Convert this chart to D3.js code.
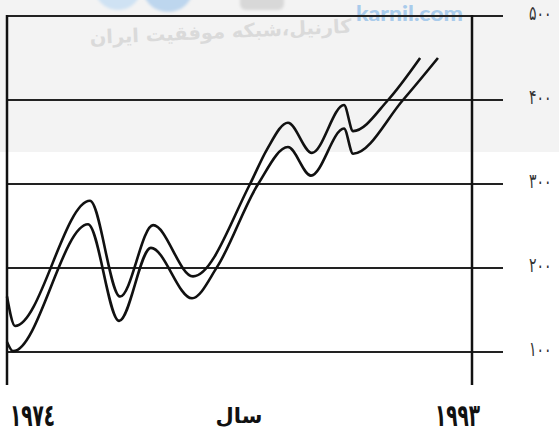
<!DOCTYPE html>
<html>
<head>
<meta charset="utf-8">
<script src="https://cdn.jsdelivr.net/npm/d3@7"></script>
<style>
  html, body { margin: 0; padding: 0; background: #fff; }
  svg { display: block; }
</style>
</head>
<body>
<svg id="chart" width="559" height="434"></svg>
<script>
// ---- data ----
const yearTicks = [1974, 1993];
const yearLabels = ["۱۹۷٤", "۱۹۹۳"];
const axisTitle = "سال";
const valueTicks = [100, 200, 300, 400, 500];
const valueLabels = ["۱۰۰", "۲۰۰", "۳۰۰", "۴۰۰", "۵۰۰"];

// upper curve
const yearsA = [1974.0, 1974.33, 1977.39, 1978.62, 1979.97, 1981.6, 1983.93, 1984.62, 1985.48, 1986.46, 1987.77, 1988.14, 1989.57, 1990.88];
const valuesA = [166, 131, 280, 166, 251, 190, 300, 341, 373, 337, 394, 363, 400, 450];
// lower curve
const yearsB = [1974.0, 1974.25, 1977.31, 1978.58, 1979.88, 1981.56, 1982.58, 1984.26, 1985.48, 1986.42, 1987.77, 1988.14, 1990.18, 1991.61];
const valuesB = [112, 101, 252, 137, 224, 164, 201, 300, 344, 310, 366, 336, 400, 450];

// ---- drawing ----
const svg = d3.select("#chart");
const x = d3.scaleLinear().domain([1974, 1993]).range([7, 472]);
const y = d3.scaleLinear().domain([100, 500]).range([352, 16]);

// background (textured top band with watermark)
svg.append("rect").attr("x", 0).attr("y", 0).attr("width", 559).attr("height", 434).attr("fill", "#ffffff");
svg.append("rect").attr("x", 0).attr("y", 0).attr("width", 559).attr("height", 152).attr("fill", "#f3f3f3");

const defs = svg.append("defs");
defs.append("filter").attr("id", "blur").append("feGaussianBlur").attr("stdDeviation", 1.5);
const wm = svg.append("g").attr("filter", "url(#blur)");
wm.append("circle").attr("cx", 118).attr("cy", -14).attr("r", 24).attr("fill", "#cfe2f3");
wm.append("circle").attr("cx", 168).attr("cy", -14).attr("r", 26).attr("fill", "#bdd6ee");
wm.append("rect").attr("x", 240).attr("y", -10).attr("width", 44).attr("height", 20).attr("rx", 6).attr("fill", "#d8d8d8");
svg.append("text").attr("x", 356).attr("y", 21)
  .attr("font-family", "Lato, 'DejaVu Sans', sans-serif").attr("font-weight", 900)
  .attr("font-size", 21).attr("fill", "#a9cbeb").attr("textLength", 107)
  .attr("lengthAdjust", "spacingAndGlyphs")
  .text("karnil.com");
svg.append("text").attr("x", 90).attr("y", 44)
  .attr("transform", "rotate(-2.5 90 44)")
  .attr("font-family", "'DejaVu Sans', sans-serif").attr("font-weight", "bold")
  .attr("font-size", 19).attr("fill", "#dadada")
  .attr("textLength", 262).attr("lengthAdjust", "spacingAndGlyphs")
  .text("کارنیل،شبکه موفقیت ایران");

// horizontal grid lines
svg.append("g").selectAll("line").data(valueTicks).join("line")
  .attr("x1", 7).attr("x2", 503)
  .attr("y1", d => y(d)).attr("y2", d => y(d))
  .attr("stroke", "#222").attr("stroke-width", 2);

// vertical frame lines
svg.append("g").selectAll("line").data(yearTicks).join("line")
  .attr("x1", d => x(d)).attr("x2", d => x(d))
  .attr("y1", y(500) - 1).attr("y2", 385)
  .attr("stroke", "#111").attr("stroke-width", 2.5);

// value labels on the right
svg.append("g").selectAll("text").data(valueTicks).join("text")
  .attr("transform", d => `translate(529, ${y(d) + 4}) scale(1, 1.45)`)
  .attr("font-family", "'DejaVu Sans', sans-serif")
  .attr("font-size", 14).attr("fill", "#333")
  .text((d, i) => valueLabels[i]);

// curves
const line = d3.line().curve(d3.curveMonotoneX).x(d => x(d[0])).y(d => y(d[1]));
const seriesA = yearsA.map((yr, i) => [yr, valuesA[i]]);
const seriesB = yearsB.map((yr, i) => [yr, valuesB[i]]);
[seriesA, seriesB].forEach(s => {
  svg.append("path").attr("d", line(s))
    .attr("fill", "none").attr("stroke", "#111").attr("stroke-width", 2.6)
    .attr("stroke-linejoin", "round").attr("stroke-linecap", "butt");
});

// bottom labels
const bottom = svg.append("g").attr("font-family", "'DejaVu Sans', sans-serif")
  .attr("font-weight", "bold").attr("fill", "#111");
bottom.append("text").attr("x", x(yearTicks[0]) + 3).attr("y", 426).attr("font-size", 31)
  .attr("textLength", 45).attr("lengthAdjust", "spacingAndGlyphs").text(yearLabels[0]);
bottom.append("text").attr("x", x(yearTicks[1]) - 37).attr("y", 426).attr("font-size", 31)
  .attr("textLength", 45).attr("lengthAdjust", "spacingAndGlyphs").text(yearLabels[1]);
bottom.append("text").attr("x", 239).attr("y", 423).attr("text-anchor", "middle").attr("font-size", 21).text(axisTitle);
</script>
</body>
</html>
